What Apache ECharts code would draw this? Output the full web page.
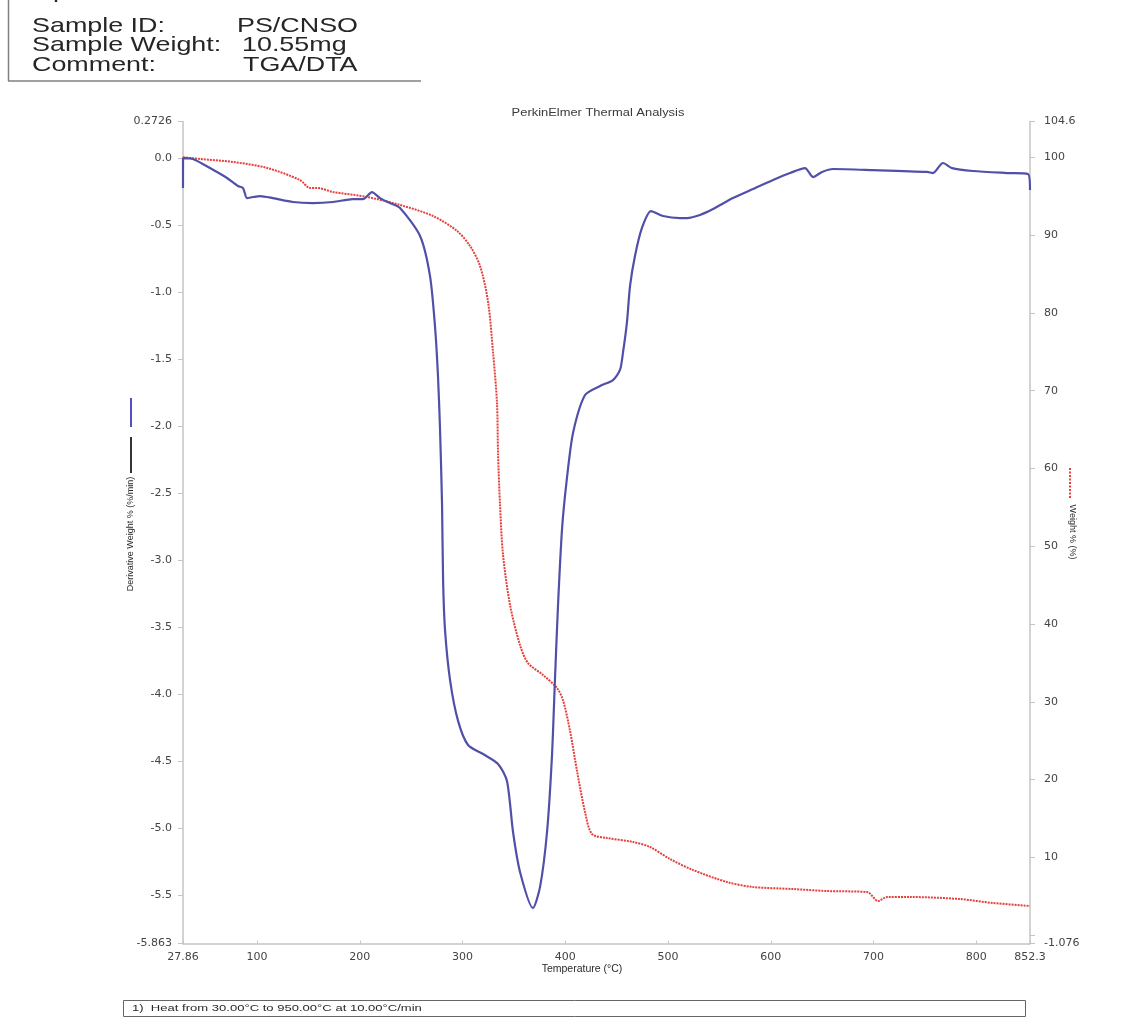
<!DOCTYPE html>
<html>
<head>
<meta charset="utf-8">
<title>PerkinElmer Thermal Analysis</title>
<script src="https://cdn.jsdelivr.net/npm/echarts@6/dist/echarts.min.js"></script>
<style>
  html, body { margin: 0; padding: 0; background: #ffffff; }
  #chart { width: 1136px; height: 1026px; }
</style>
</head>
<body>
<div id="chart"></div>
<script>
// Derivative weight curve (%/min) against temperature (°C)
const derivTemp = [27.86, 27.9, 37.6, 54.1, 70.7, 81.4, 86.3, 90.2, 96.0, 102.8, 115.5, 134.9, 154.4, 173.9,
  193.3, 203.1, 211.8, 219.6, 229.3, 239.1, 258.6, 268.3, 273.2, 276.1, 278.0, 280.0, 281.0, 282.9,
  287.8, 295.6, 305.3, 319.9, 334.5, 343.2, 349.1, 355.9, 368.5, 375.4, 382.2, 387.0, 389.9, 392.9,
  396.8, 401.6, 407.5, 419.2, 433.8, 446.4, 453.2, 456.2, 460.0, 463.0, 467.8, 474.6, 483.4, 495.1,
  511.6, 518.5, 531.1, 543.8, 563.2, 582.7, 602.2, 618.7, 633.3, 641.1, 649.9, 660.6, 699.5, 752.1,
  757.9, 767.6, 776.4, 796.8, 829.9, 850.3, 852.3];
const derivValue = [-0.224, 0.0, -0.007, -0.075, -0.149, -0.209, -0.224, -0.299, -0.291, -0.284, -0.299, -0.328, -0.336, -0.328,
  -0.306, -0.306, -0.254, -0.299, -0.336, -0.373, -0.582, -0.881, -1.261, -1.634, -2.015, -2.582, -3.142, -3.522,
  -3.896, -4.201, -4.381, -4.448, -4.522, -4.649, -5.030, -5.328, -5.597, -5.440, -5.030, -4.463, -3.896, -3.336,
  -2.769, -2.388, -2.052, -1.769, -1.701, -1.657, -1.582, -1.448, -1.224, -0.955, -0.731, -0.522, -0.396, -0.433,
  -0.448, -0.448, -0.425, -0.381, -0.299, -0.231, -0.164, -0.112, -0.075, -0.142, -0.104, -0.082, -0.090, -0.104,
  -0.112, -0.037, -0.075, -0.097, -0.112, -0.119, -0.239];

// Weight curve (%) against temperature (°C)
const weightTemp = [27.86, 44.4, 76.5, 109.6, 141.7, 151.5, 158.3, 173.9, 207.0, 239.1, 271.2, 294.6, 307.2,
  317.0, 324.8, 329.6, 333.5, 334.5, 336.4, 339.3, 346.2, 355.9, 363.7, 378.3, 391.9, 397.7, 404.6,
  411.4, 419.2, 426.0, 440.6, 465.9, 482.4, 501.9, 524.3, 557.4, 582.7, 621.6, 654.7, 693.8, 704.4,
  713.1, 735.5, 784.2, 816.3, 852.3];
const weightValue = [100.0, 99.78, 99.40, 98.63, 97.08, 96.06, 96.06, 95.54, 94.90, 93.87, 92.45, 90.53, 88.60,
  86.03, 81.40, 74.97, 68.42, 61.99, 55.43, 49.00, 42.45, 37.30, 34.99, 33.45, 31.78, 30.23, 26.25,
  21.11, 15.84, 13.01, 12.50, 11.99, 11.34, 9.80, 8.38, 6.84, 6.20, 5.94, 5.68, 5.55, 4.40,
  4.91, 4.91, 4.65, 4.14, 3.76];

// Axis ranges and tick positions
const tempRange = [27.86, 852.3];
const derivRange = [-5.863, 0.2726];
const weightRange = [-1.076, 104.6];
const tempTicks = [27.86, 100, 200, 300, 400, 500, 600, 700, 800, 852.3];
const derivTicks = [0.2726, 0, -0.5, -1, -1.5, -2, -2.5, -3, -3.5, -4, -4.5, -5, -5.5, -5.863];
const weightTicks = [104.6, 100, 90, 80, 70, 60, 50, 40, 30, 20, 10, 0, -1.076];
const weightTickLabels = [104.6, 100, 90, 80, 70, 60, 50, 40, 30, 20, 10, -1.076];

// Header and notes
const headerRows = [
  ['Operator ID:', 'Abdullahi'],
  ['Sample ID:', 'PS/CNSO'],
  ['Sample Weight:', '10.55mg'],
  ['Comment:', 'TGA/DTA']
];
const chartTitle = 'PerkinElmer Thermal Analysis';
const xName = 'Temperature (°C)';
const leftName = 'Derivative Weight % (%/min)';
const rightName = 'Weight % (%)';
const methodNote = '1)  Heat from 30.00°C to 950.00°C at 10.00°C/min';

const zip = (xs, ys) => xs.map((x, i) => [x, ys[i]]);

const axisGrey = '#c4c4c4';
const labelStyle = { color: '#444444', fontSize: 11, fontFamily: 'DejaVu Sans' };

const chart = echarts.init(document.getElementById('chart'), null, { renderer: 'canvas' });

const headerGraphics = [];
const headerY = [-8, 26, 45.5, 65];
const headerValueX = [240, 237, 242, 243];
headerRows.forEach((row, i) => {
  headerGraphics.push({
    type: 'text', x: 32, y: headerY[i], scaleX: 1.28,
    style: { text: row[0], font: '21px "Liberation Sans", Arial, sans-serif', fill: '#262626', verticalAlign: 'middle', align: 'left' }
  });
  headerGraphics.push({
    type: 'text', x: headerValueX[i], y: headerY[i], scaleX: 1.28,
    style: { text: row[1], font: '21px "Liberation Sans", Arial, sans-serif', fill: '#262626', verticalAlign: 'middle', align: 'left' }
  });
});

const option = {
  animation: false,
  backgroundColor: '#ffffff',
  grid: { left: 183, right: 106, top: 121.5, bottom: 82.4 },
  xAxis: {
    type: 'value',
    min: tempRange[0],
    max: tempRange[1],
    splitLine: { show: false },
    axisLine: { show: true, onZero: false, lineStyle: { color: axisGrey, width: 1.5 } },
    axisTick: { show: true, inside: true, length: 3, customValues: tempTicks, lineStyle: { color: axisGrey } },
    axisLabel: Object.assign({
      margin: 8,
      customValues: tempTicks,
      formatter: v => (v === 27.86 ? '27.86' : v === 852.3 ? '852.3' : String(Math.round(v)))
    }, labelStyle)
  },
  yAxis: [
    {
      type: 'value',
      position: 'left',
      min: derivRange[0],
      max: derivRange[1],
      splitLine: { show: false },
      axisLine: { show: true, onZero: false, lineStyle: { color: axisGrey, width: 1.5 } },
      axisTick: { show: true, length: 5, customValues: derivTicks, lineStyle: { color: axisGrey } },
      axisLabel: Object.assign({
        margin: 11,
        customValues: derivTicks,
        formatter: v => (v === 0.2726 ? '0.2726' : v === -5.863 ? '-5.863' : v.toFixed(1))
      }, labelStyle)
    },
    {
      type: 'value',
      position: 'right',
      min: weightRange[0],
      max: weightRange[1],
      splitLine: { show: false },
      axisLine: { show: true, onZero: false, lineStyle: { color: axisGrey, width: 1.5 } },
      axisTick: { show: true, length: 5, customValues: weightTicks, lineStyle: { color: axisGrey } },
      axisLabel: Object.assign({
        margin: 14,
        customValues: weightTickLabels,
        formatter: v => (v === -1.076 ? '-1.076' : v === 104.6 ? '104.6' : String(v))
      }, labelStyle)
    }
  ],
  series: [
    {
      name: 'Weight %',
      type: 'line',
      yAxisIndex: 1,
      data: zip(weightTemp, weightValue),
      showSymbol: false,
      smooth: 0.3,
      lineStyle: { color: '#e5403c', width: 2, type: [2, 1] },
      z: 2
    },
    {
      name: 'Derivative Weight %',
      type: 'line',
      yAxisIndex: 0,
      data: zip(derivTemp, derivValue),
      showSymbol: false,
      smooth: 0.25,
      lineStyle: { color: '#5050a8', width: 2.2 },
      z: 3
    }
  ],
  graphic: headerGraphics.concat([
    // header frame
    { type: 'line', shape: { x1: 8.5, y1: 0, x2: 8.5, y2: 81 }, style: { stroke: '#808080', lineWidth: 1.5 } },
    { type: 'line', shape: { x1: 8, y1: 81, x2: 421, y2: 81 }, style: { stroke: '#808080', lineWidth: 1.5 } },
    // chart title
    { type: 'text', x: 598, y: 113, scaleX: 1.29,
      style: { text: chartTitle, font: '10px "Liberation Sans", Arial, sans-serif', fill: '#3a3a3a', align: 'center', verticalAlign: 'middle' } },
    // x axis name
    { type: 'text', x: 582, y: 969,
      style: { text: xName, font: '10.5px "Liberation Sans", Arial, sans-serif', fill: '#2a2a2a', align: 'center', verticalAlign: 'middle' } },
    // left axis key and name
    { type: 'line', shape: { x1: 131, y1: 398, x2: 131, y2: 427 }, style: { stroke: '#5050c0', lineWidth: 2 } },
    { type: 'line', shape: { x1: 131, y1: 437, x2: 131, y2: 473 }, style: { stroke: '#333333', lineWidth: 2 } },
    { type: 'text', x: 131, y: 534, rotation: Math.PI / 2,
      style: { text: leftName, font: '9px "Liberation Sans", Arial, sans-serif', fill: '#2a2a2a', align: 'center', verticalAlign: 'middle' } },
    // right axis key and name
    { type: 'line', shape: { x1: 1070, y1: 468, x2: 1070, y2: 498 }, style: { stroke: '#e5403c', lineWidth: 2, lineDash: [2, 1.5] } },
    { type: 'text', x: 1072, y: 532, rotation: -Math.PI / 2,
      style: { text: rightName, font: '9px "Liberation Sans", Arial, sans-serif', fill: '#2a2a2a', align: 'center', verticalAlign: 'middle' } },
    // method note box
    { type: 'rect', shape: { x: 123.5, y: 1000.5, width: 902, height: 16 }, style: { fill: '#ffffff', stroke: '#666666', lineWidth: 1 } },
    { type: 'text', x: 132, y: 1008.5, scaleX: 1.45,
      style: { text: methodNote, font: '9px "Liberation Sans", Arial, sans-serif', fill: '#2a2a2a', align: 'left', verticalAlign: 'middle' } }
  ])
};

chart.setOption(option);
</script>
</body>
</html>
